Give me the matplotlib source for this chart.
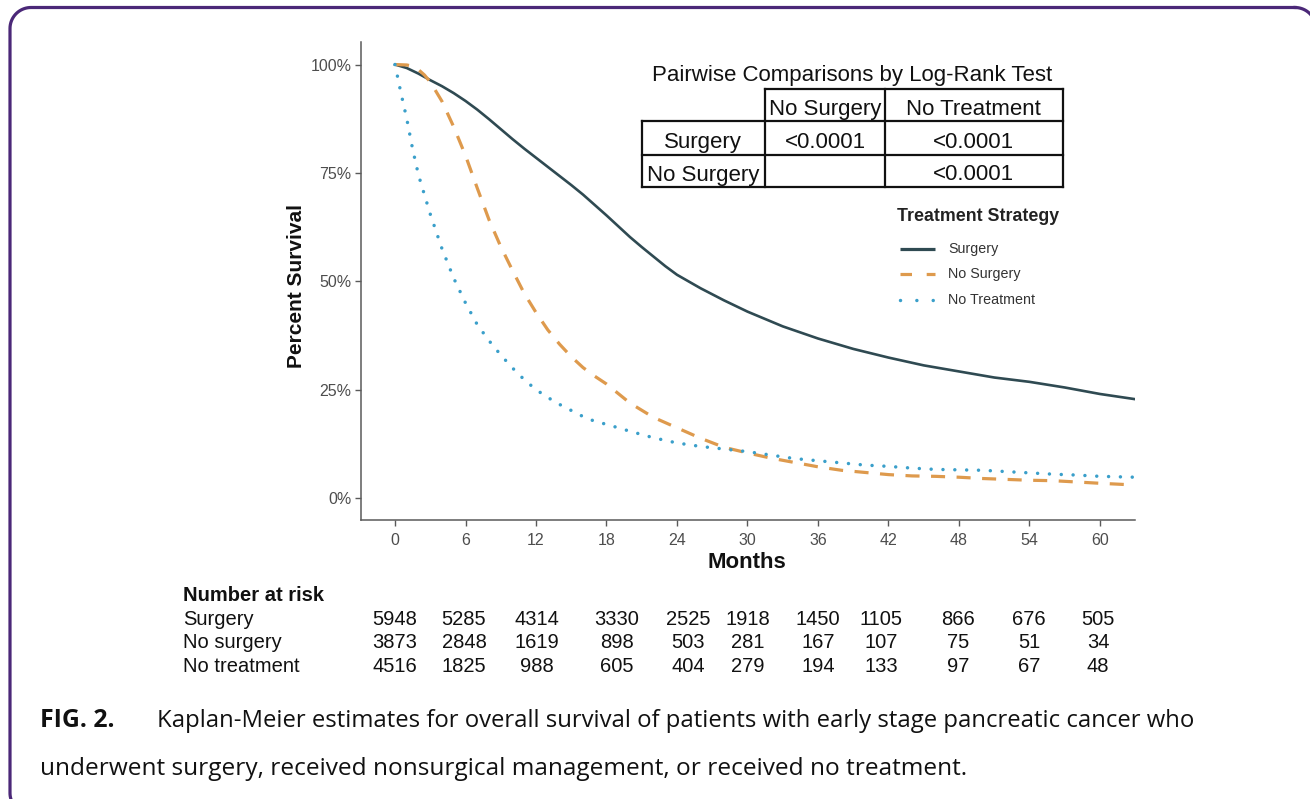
import matplotlib
matplotlib.use("Agg")
import matplotlib.pyplot as plt
import numpy as np
from matplotlib.lines import Line2D

W, H, DPI = 1310, 799, 100

# ---------------- data ----------------
surgery_t = [0, 1, 2, 3, 4, 5, 6, 7, 8, 9, 10, 11, 12, 13, 14, 15, 16, 17, 18, 19, 20,
             21, 22, 23, 24, 26, 28, 30, 33, 36, 39, 42, 45, 48, 51, 54, 57, 60, 63]
surgery_s = [100, 99.2, 97.9, 96.4, 95.0, 93.4, 91.6, 89.6, 87.4, 85.1, 82.8, 80.6, 78.5,
             76.4, 74.3, 72.2, 70, 67.6, 65.2, 62.7, 60.2, 57.9, 55.7, 53.5, 51.5, 48.4,
             45.6, 43, 39.6, 36.8, 34.4, 32.4, 30.6, 29.2, 27.8, 26.8, 25.5, 24, 22.8]

nosurg_t = [0, 1, 1.5, 2, 2.5, 3, 4, 5, 6, 7, 8, 9, 10, 11, 12, 13, 14, 15, 16, 17, 18,
            20, 22, 24, 26, 28, 30, 32, 34, 36, 38, 40, 42, 44, 46, 48, 50, 52, 54, 56,
            58, 60, 63]
nosurg_s = [100, 99.9, 99.6, 98.8, 97.6, 96.0, 91.5, 85.6, 79, 71.5, 64.2, 58, 52.5, 47.2,
            42.8, 38.8, 35.5, 32.6, 30.1, 28.1, 26.3, 21.9, 18.6, 16.2, 13.8, 11.7, 10.4,
            9.2, 8.2, 7.2, 6.4, 5.9, 5.4, 5.1, 5.0, 4.8, 4.5, 4.3, 4.1, 4.0, 3.7, 3.4, 3.0]

notreat_t = [0, 0.5, 1, 1.5, 2, 3, 4, 5, 6, 7, 8, 9, 10, 11, 12, 13, 14, 15, 16, 17, 18,
             20, 22, 24, 26, 28, 30, 32, 34, 36, 38, 40, 42, 44, 46, 48, 50, 52, 54, 56,
             58, 60, 63]
notreat_s = [100, 93.5, 87.5, 80.5, 74.5, 65.5, 57.5, 50.7, 45, 40, 36.3, 33, 30, 27.3,
             25, 23.2, 21.6, 20.2, 18.8, 17.7, 17, 15.4, 13.9, 12.7, 11.9, 11.3, 10.7,
             9.9, 9.1, 8.6, 8.1, 7.6, 7.3, 6.9, 6.6, 6.5, 6.4, 6.1, 5.8, 5.5, 5.3, 5.0, 4.8]

series_names = ["Surgery", "No Surgery", "No Treatment"]

x_ticks = [0, 6, 12, 18, 24, 30, 36, 42, 48, 54, 60]
y_ticks = [0, 25, 50, 75, 100]
y_ticklabels = ["0%", "25%", "50%", "75%", "100%"]

risk_labels = ["Surgery", "No surgery", "No treatment"]
risk_surgery = [5948, 5285, 4314, 3330, 2525, 1918, 1450, 1105, 866, 676, 505]
risk_nosurg = [3873, 2848, 1619, 898, 503, 281, 167, 107, 75, 51, 34]
risk_notreat = [4516, 1825, 988, 605, 404, 279, 194, 133, 97, 67, 48]

table_title = "Pairwise Comparisons by Log-Rank Test"
table_cols = ["No Surgery", "No Treatment"]
table_rows = ["Surgery", "No Surgery"]
table_vals = [["<0.0001", "<0.0001"], ["", "<0.0001"]]

caption_bold = "FIG. 2."
caption_l1 = "Kaplan-Meier estimates for overall survival of patients with early stage pancreatic cancer who"
caption_l2 = "underwent surgery, received nonsurgical management, or received no treatment."

# ---------------- style ----------------
C_SURG = "#2f4a52"
C_NOSURG = "#de9a4d"
C_NOTREAT = "#3a9fca"
C_AXIS = "#5a5a5a"
C_TICK = "#4d4d4d"
C_FRAME = "#4b2878"
SANS = ["Liberation Sans", "DejaVu Sans"]


def px(x, y):
    return x / W, 1 - y / H


fig = plt.figure(figsize=(W / DPI, H / DPI), dpi=DPI)
fig.patch.set_facecolor("white")

# decorative frame (rounded rectangle) in a full-figure pixel overlay
ov = fig.add_axes([0, 0, 1, 1], zorder=-1)
ov.set_xlim(0, W)
ov.set_ylim(H, 0)
ov.axis("off")
fx0, fy0, fx1, fy1, rad = 10, 7.5, 1316, 814, 21
fxs, fys = [], []
for cx, cy, a0 in [(fx1 - rad, fy0 + rad, -90), (fx1 - rad, fy1 - rad, 0),
                   (fx0 + rad, fy1 - rad, 90), (fx0 + rad, fy0 + rad, 180)]:
    ang = np.radians(np.linspace(a0, a0 + 90, 20))
    fxs.extend(cx + rad * np.cos(ang))
    fys.extend(cy + rad * np.sin(ang))
fxs.append(fxs[0])
fys.append(fys[0])
ov.plot(fxs, fys, color=C_FRAME, lw=2.3, clip_on=False, solid_joinstyle="round")

# axes
L, R, T, B = 361, 1135, 42, 520
ax = fig.add_axes([L / W, 1 - B / H, (R - L) / W, (B - T) / H])
ax.set_xlim(-2.894, 62.98)
ax.set_ylim(-5.07, 105.2)
for s in ["top", "right"]:
    ax.spines[s].set_visible(False)
for s in ["left", "bottom"]:
    ax.spines[s].set_color(C_AXIS)
    ax.spines[s].set_linewidth(1.1)

ax.plot(surgery_t, surgery_s, color=C_SURG, lw=1.9, solid_joinstyle="round")
ax.plot(nosurg_t, nosurg_s, color=C_NOSURG, lw=2.3, dashes=(4.4, 3.6),
        dash_capstyle="butt")
ax.plot(notreat_t, notreat_s, color=C_NOTREAT, lw=2.5,
        linestyle=(0, (0.01, 3.4)), dash_capstyle="round")

ax.set_xticks(x_ticks)
ax.set_xticklabels([str(v) for v in x_ticks])
ax.set_yticks(y_ticks)
ax.set_yticklabels(y_ticklabels)
ax.tick_params(axis="both", direction="out", length=4, width=1.0, color=C_AXIS,
               labelcolor=C_TICK, labelsize=11.5)
ax.tick_params(axis="x", pad=5.5)
ax.tick_params(axis="y", pad=3)
for lab in ax.get_xticklabels() + ax.get_yticklabels():
    lab.set_family(SANS)

# axis titles
fig.text(*px(747, 562), "Months", ha="center", va="center", fontsize=16,
         fontweight="bold", family=SANS, color="#111111")
fig.text(*px(297, 286), "Percent Survival", ha="center", va="center", rotation=90,
         fontsize=15, fontweight="bold", family=SANS, color="#111111")

# pairwise table
fig.text(*px(852, 80.5), table_title, ha="center", va="baseline", fontsize=16,
         family=SANS, color="#111111")
xs = [641.7, 765, 885, 1062.7]
ys = [89.3, 121, 155, 186.7]


def seg(x0, y0, x1, y1):
    a = px(x0, y0)
    b = px(x1, y1)
    fig.add_artist(Line2D([a[0], b[0]], [a[1], b[1]], transform=fig.transFigure,
                          color="#111111", lw=1.6, solid_capstyle="projecting"))


seg(xs[1], ys[0], xs[3], ys[0])
for yy in ys[1:]:
    seg(xs[0], yy, xs[3], yy)
seg(xs[0], ys[1], xs[0], ys[3])
for xx in xs[1:]:
    seg(xx, ys[0], xx, ys[3])

base_y = [114.8, 148.3, 180.5]
for j, c in enumerate(table_cols):
    fig.text(*px((xs[j + 1] + xs[j + 2]) / 2, base_y[0]), c, ha="center",
             va="baseline", fontsize=16, family=SANS, color="#111111")
for i, rname in enumerate(table_rows):
    fig.text(*px((xs[0] + xs[1]) / 2, base_y[i + 1]), rname, ha="center",
             va="baseline", fontsize=16, family=SANS, color="#111111")
    for j, v in enumerate(table_vals[i]):
        if v:
            fig.text(*px((xs[j + 1] + xs[j + 2]) / 2, base_y[i + 1]), v, ha="center",
                     va="baseline", fontsize=16, family=SANS, color="#111111")

# legend
fig.text(*px(897, 216.7), "Treatment Strategy", ha="left", va="center", fontsize=12.8,
         fontweight="bold", family=SANS, color="#222222")
leg_y = [249, 274.3, 300]
leg_styles = [
    dict(color=C_SURG, lw=2.3, solid_capstyle="butt"),
    dict(color=C_NOSURG, lw=2.3, dashes=(3.6, 4.6), dash_capstyle="butt"),
    dict(color=C_NOTREAT, lw=2.5, linestyle=(0, (0.01, 4.7)), dash_capstyle="round"),
]
for name, yy, st in zip(series_names, leg_y, leg_styles):
    a = px(900, yy)
    b = px(935, yy)
    fig.add_artist(Line2D([a[0], b[0]], [a[1], b[1]], transform=fig.transFigure, **st))
    fig.text(*px(948, yy), name, ha="left", va="center", fontsize=10.3,
             family=SANS, color="#333333")

# number at risk
fig.text(*px(183, 601), "Number at risk", ha="left", va="baseline", fontsize=14.5,
         fontweight="bold", family=SANS, color="#111111")
risk_cols = [395, 464, 537, 617, 688, 748, 818, 881, 958, 1029, 1098]
risk_base = [625, 648.5, 672]
for lab, vals, yb in zip(risk_labels, [risk_surgery, risk_nosurg, risk_notreat], risk_base):
    fig.text(*px(183, yb), lab, ha="left", va="baseline", fontsize=14.5,
             family=SANS, color="#111111")
    for xc, v in zip(risk_cols, vals):
        fig.text(*px(xc, yb), str(v), ha="center", va="baseline", fontsize=14.5,
                 family=SANS, color="#111111")

# caption
CAP = ["Open Sans", "DejaVu Sans"]
cfs = 15.5
tb = fig.text(*px(40, 727), caption_bold, ha="left", va="baseline", fontsize=cfs,
              fontweight="bold", family=CAP, color="#111111")
t1 = fig.text(*px(157, 727), caption_l1, ha="left", va="baseline", fontsize=cfs,
              family=CAP, color="#111111")
t2 = fig.text(*px(40, 775), caption_l2, ha="left", va="baseline", fontsize=cfs,
              family=CAP, color="#111111")
fig.canvas.draw()
r = fig.canvas.get_renderer()
s2 = 928.0 / t2.get_window_extent(r).width
s1 = 1040.0 / t1.get_window_extent(r).width
t2.set_fontsize(cfs * s2)
t1.set_fontsize(cfs * s1)
tb.set_fontsize(cfs * (s1 + s2) / 2 * 1.03)

fig.savefig("out.png", dpi=DPI, facecolor="white")
